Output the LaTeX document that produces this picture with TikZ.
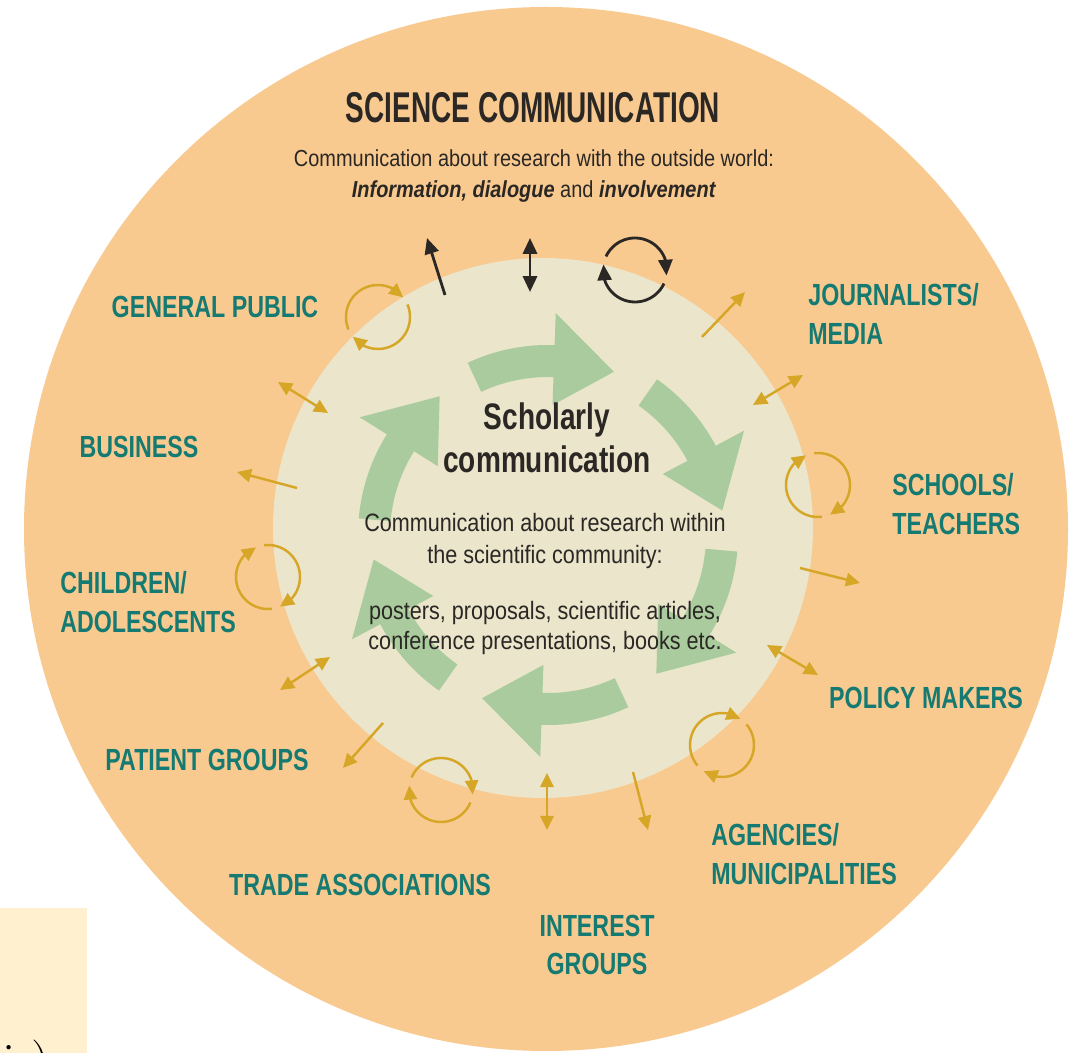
\documentclass[tikz,border=0pt]{standalone}
\usepackage{fontspec}
\newfontfamily\titlefont[FakeStretch=0.65]{Liberation Sans}
\newfontfamily\condfont[FakeStretch=0.76]{Liberation Sans}
\newfontfamily\bodyfont[FakeStretch=0.86]{Liberation Sans}
\usetikzlibrary{arrows.meta,bending}

\definecolor{outerring}{HTML}{F9CA90}
\definecolor{innercore}{HTML}{EAE5CB}
\definecolor{cyclegreen}{HTML}{A9CB9D}
\definecolor{grouptext}{HTML}{157A71}
\definecolor{linkgold}{HTML}{D6A626}
\definecolor{darkink}{HTML}{2A2724}
\definecolor{notepaper}{HTML}{FFF0CF}

\tikzset{
  group/.style={font=\condfont\bfseries\fontsize{17.4}{22}\selectfont, text=grouptext, inner sep=0pt},
  bodytext/.style={font=\bodyfont\fontsize{13.2}{18.1}\selectfont, text=darkink, inner sep=0pt, align=center},
  link/.style={linkgold, line width=1.4pt, -{Triangle[length=8pt,width=7.5pt,flex]}},
  twoway/.style={linkgold, line width=1.4pt, {Triangle[length=8pt,width=7.5pt]}-{Triangle[length=8pt,width=7.5pt]}},
  inklink/.style={darkink, line width=1.6pt, -{Triangle[length=9pt,width=8pt,flex]}},
  inktwoway/.style={darkink, line width=1.6pt, {Triangle[length=9pt,width=8pt]}-{Triangle[length=9pt,width=8pt]}},
}

% two arcs turning clockwise around (#1,#2), first tip at angle #3
\newcommand{\turnaround}[4]{%
  \draw[#4] (#1,#2) ++({#3+165}:32) arc[start angle={#3+165}, end angle={#3}, radius=32];
  \draw[#4] (#1,#2) ++({#3-15}:32) arc[start angle={#3-15}, end angle={#3-180}, radius=32];
}

\begin{document}
\begin{tikzpicture}[x=0.02cm, y=0.02cm]
  \useasboundingbox (0,-1053) rectangle (1076,0);
  \fill[white] (0,-1053) rectangle (1076,0);

  % rings
  \fill[outerring] (546,-529) circle[radius=522];
  \fill[innercore] (543,-528) circle[radius=270];

  % big green cycle
  \begin{scope}[shift={(548,-535)}]
    \foreach \k in {0,...,5} {
      \pgfmathsetmacro\ta{115-60*\k}
      \pgfmathsetmacro\tb{88-60*\k}
      \pgfmathsetmacro\tc{68-60*\k}
      \fill[cyclegreen] (\ta:190) arc[start angle=\ta, end angle=\tb, radius=190]
        -- (\tb:222) -- (\tc:176) -- (\tb:130) -- (\tb:158)
        arc[start angle=\tb, end angle=\ta, radius=158] -- cycle;
    }
  \end{scope}

  % headings
  \node[font=\titlefont\bfseries\fontsize{24.5}{29}\selectfont, text=darkink, inner sep=0pt] (title) at (533,-108) {SCIENCE COMMUNICATION};
  \node[bodytext] (outreach) at (534,-176) {Communication about research with the outside world:\\\textbf{\textit{Information, dialogue}} and \textbf{\textit{involvement}}};

  \node[font=\condfont\bfseries\fontsize{21}{24.4}\selectfont, text=darkink, inner sep=0pt, align=center] (scholarly) at (547,-438) {Scholarly\\communication};
  \node[bodytext, font=\bodyfont\fontsize{14.3}{18.1}\selectfont] (within) at (545,-541) {Communication about research within\\the scientific community:};
  \node[bodytext, font=\bodyfont\fontsize{14.3}{17}\selectfont] (outputs) at (545,-628) {posters, proposals, scientific articles,\\conference presentations, books etc.};

  % target groups
  \node[group] (public) at (215,-307) {GENERAL PUBLIC};
  \node[group] (business) at (139,-447) {BUSINESS};
  \node[group, anchor=west, align=left] (children) at (60,-602) {CHILDREN/\\ADOLESCENTS};
  \node[group] (patients) at (207,-760) {PATIENT GROUPS};
  \node[group] (trade) at (360,-885) {TRADE ASSOCIATIONS};
  \node[group, align=center] (interest) at (597,-945) {INTEREST\\GROUPS};
  \node[group, anchor=west, align=left] (agencies) at (711,-854) {AGENCIES/\\MUNICIPALITIES};
  \node[group] (policy) at (926,-698) {POLICY MAKERS};
  \node[group, anchor=west, align=left] (schools) at (892,-504) {SCHOOLS/\\TEACHERS};
  \node[group, anchor=west, align=left] (media) at (808,-314) {JOURNALISTS/\\MEDIA};

  % information, dialogue, involvement
  \draw[inklink] (445,-295) -- (427,-238);
  \draw[inktwoway] (530,-292) -- (530,-238);
  \turnaround{635}{-270}{-10}{inklink}

  % one-way links
  \foreach \xa/\ya/\xb/\yb in {297/-488/237/-472, 702/-337/745/-292, 800/-568/860/-583,
                               633/-772/648/-830, 383/-723/343/-768}
    \draw[link] (\xa,\ya) -- (\xb,\yb);

  % two-way links
  \foreach \xa/\ya/\xb/\yb in {278/-382/328/-413, 753/-405/803/-375, 767/-645/818/-675,
                               547/-773/547/-830, 280/-690/330/-657}
    \draw[twoway] (\xa,\ya) -- (\xb,\yb);

  % involvement loops
  \foreach \cx/\cy/\tip in {378/-317/38, 268/-577/112, 818/-485/112, 722/-745/55, 441/-790/-8} {
    \turnaround{\cx}{\cy}{\tip}{link}
  }

  % note corner
  \fill[notepaper] (0,-908) rectangle (87,-1053);
  \node[anchor=north west, inner sep=0pt, font=\fontsize{30}{30}\selectfont] (note) at (2,-1040) {i )};
\end{tikzpicture}
\end{document}
